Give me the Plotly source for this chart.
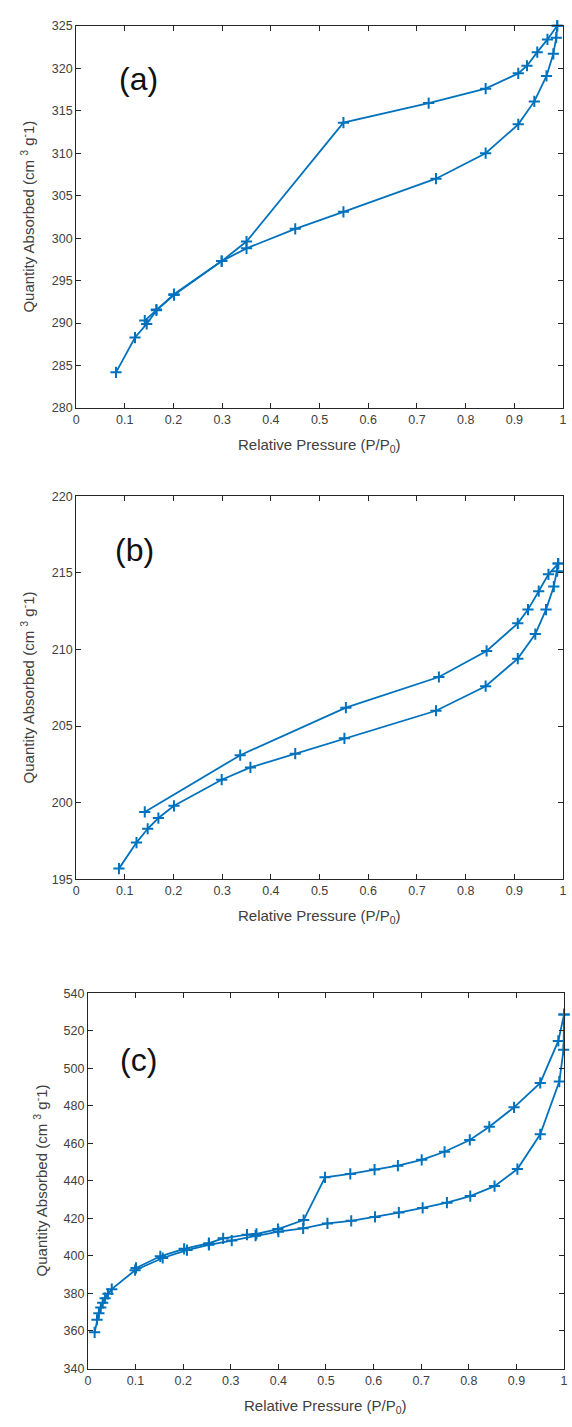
import plotly.graph_objects as go

W, H = 572, 1427

# ---- (a) isotherm: adsorption and desorption branches ----
a_ads_p = [0.082, 0.121, 0.145, 0.165, 0.201, 0.299, 0.350, 0.450, 0.549, 0.739,
           0.841, 0.908, 0.941, 0.966, 0.980, 0.986, 0.988]
a_ads_q = [284.2, 288.3, 289.9, 291.5, 293.3, 297.3, 298.8, 301.1, 303.1, 307.0,
           310.0, 313.4, 316.1, 319.1, 321.7, 323.6, 325.0]
a_des_p = [0.988, 0.968, 0.947, 0.926, 0.908, 0.841, 0.724, 0.549, 0.350, 0.299,
           0.201, 0.165, 0.141]
a_des_q = [325.0, 323.4, 321.9, 320.3, 319.4, 317.6, 315.9, 313.6, 299.6, 297.3,
           293.4, 291.6, 290.3]

# ---- (b) isotherm ----
b_ads_p = [0.088, 0.124, 0.147, 0.169, 0.201, 0.299, 0.358, 0.450, 0.551, 0.739,
           0.841, 0.907, 0.943, 0.965, 0.981, 0.988, 0.990]
b_ads_q = [195.7, 197.4, 198.3, 199.0, 199.8, 201.5, 202.3, 203.2, 204.2, 206.0,
           207.6, 209.4, 211.0, 212.6, 214.1, 215.1, 215.6]
b_des_p = [0.990, 0.970, 0.950, 0.928, 0.907, 0.843, 0.745, 0.554, 0.337, 0.141]
b_des_q = [215.6, 214.9, 213.8, 212.6, 211.7, 209.9, 208.2, 206.2, 203.1, 199.4]

# ---- (c) isotherm ----
c_ads_p = [0.014, 0.019, 0.023, 0.027, 0.031, 0.036, 0.042, 0.050, 0.099, 0.157,
           0.208, 0.254, 0.302, 0.352, 0.400, 0.452, 0.503, 0.553, 0.603, 0.653,
           0.703, 0.754, 0.803, 0.854, 0.902, 0.950, 0.990, 0.999, 1.000]
c_ads_q = [359.3, 366.0, 369.5, 372.5, 375.0, 377.5, 379.8, 382.3, 392.4, 398.9,
           403.1, 405.9, 408.2, 410.8, 412.9, 414.7, 417.3, 418.7, 420.8, 423.1,
           425.6, 428.4, 431.9, 437.2, 446.3, 464.8, 492.9, 509.9, 528.7]
c_des_p = [1.000, 0.988, 0.950, 0.895, 0.843, 0.802, 0.749, 0.701, 0.651, 0.602,
           0.551, 0.498, 0.453, 0.399, 0.354, 0.334, 0.284, 0.254, 0.202, 0.152,
           0.101]
c_des_q = [528.7, 514.6, 492.2, 479.2, 468.8, 461.8, 455.5, 451.2, 448.1, 446.0,
           443.7, 441.9, 419.1, 414.3, 411.7, 411.3, 409.4, 406.8, 403.8, 399.8,
           393.6]

# ---- tick labels ----
x_tick_vals = [0, 0.1, 0.2, 0.3, 0.4, 0.5, 0.6, 0.7, 0.8, 0.9, 1]
x_tick_text = ["0", "0.1", "0.2", "0.3", "0.4", "0.5", "0.6", "0.7", "0.8", "0.9", "1"]
a_y_ticks = [280, 285, 290, 295, 300, 305, 310, 315, 320, 325]
b_y_ticks = [195, 200, 205, 210, 215, 220]
c_y_ticks = [340, 360, 380, 400, 420, 440, 460, 480, 500, 520, 540]

panel_labels = ["(a)", "(b)", "(c)"]
x_title = "Relative Pressure (P/P<sub>0</sub>)"
y_title = "Quantity Absorbed (cm <sup>3</sup> g<sup>-</sup>1)"

LINE = "#0072BD"
AXIS = "#262626"
TEXT = "#404040"
FONT = "Liberation Sans, Arial, sans-serif"


def px_x(px):
    return px / W


def px_y(py):
    return 1 - py / H


# plot boxes in pixels: left, right, top, bottom
boxes = [
    (74, 567, 19, 405),
    (74, 567, 494, 881),
    (86, 568, 996, 1375),
]
y_ranges = [[280, 325], [195, 220], [340, 540]]
y_ticks = [a_y_ticks, b_y_ticks, c_y_ticks]
series = [
    (a_ads_p, a_ads_q, a_des_p, a_des_q),
    (b_ads_p, b_ads_q, b_des_p, b_des_q),
    (c_ads_p, c_ads_q, c_des_p, c_des_q),
]
label_pos = [(137, 73), (133, 548), (137, 1063)]
ytitle_x = [25, 25, 38]

fig = go.Figure()
annotations = []
layout = {}

for i in range(3):
    n = "" if i == 0 else str(i + 1)
    xa, ya = "x" + n, "y" + n
    l, r, t, b = boxes[i]
    ads_p, ads_q, des_p, des_q = series[i]
    for px_, q_ in ((ads_p, ads_q), (des_p, des_q)):
        fig.add_trace(go.Scatter(
            x=px_, y=q_, xaxis=xa, yaxis=ya, mode="lines+markers",
            line=dict(color=LINE, width=1.8),
            marker=dict(symbol="cross-thin", size=8, color=LINE,
                        line=dict(color=LINE, width=2)),
            cliponaxis=False, showlegend=False, hoverinfo="x+y",
        ))

    common = dict(
        showline=True, linecolor=AXIS, linewidth=1, mirror="ticks",
        ticks="inside", ticklen=5, tickwidth=1, tickcolor=AXIS,
        showgrid=False, zeroline=False, fixedrange=True,
        tickfont=dict(family=FONT, size=12.5, color=TEXT),
    )
    layout["xaxis" + n] = dict(
        common, domain=[px_x(l), px_x(r)], anchor=ya, range=[0, 1],
        tickmode="array", tickvals=x_tick_vals, ticktext=x_tick_text,
    )
    layout["yaxis" + n] = dict(
        common, domain=[px_y(b), px_y(t)], anchor=xa, range=y_ranges[i],
        tickmode="array", tickvals=y_ticks[i],
        ticktext=[str(v) for v in y_ticks[i]],
    )

    # panel letter
    lx, ly = label_pos[i]
    annotations.append(dict(
        text=panel_labels[i], xref="paper", yref="paper",
        x=px_x(lx), y=px_y(ly), xanchor="center", yanchor="middle",
        showarrow=False, font=dict(family=FONT, size=32, color="#111111"),
    ))
    # x-axis title
    annotations.append(dict(
        text=x_title, xref="paper", yref="paper",
        x=px_x((l + r) / 2), y=px_y(b + 38), xanchor="center", yanchor="middle",
        showarrow=False, font=dict(family=FONT, size=15, color=TEXT),
    ))
    # y-axis title
    annotations.append(dict(
        text=y_title, xref="paper", yref="paper", textangle=-90,
        x=px_x(ytitle_x[i]), y=px_y((t + b) / 2), xanchor="center", yanchor="middle",
        showarrow=False, font=dict(family=FONT, size=15, color=TEXT),
    ))

fig.update_layout(
    width=W, height=H, autosize=False,
    margin=dict(l=0, r=0, t=0, b=0, pad=0),
    paper_bgcolor="white", plot_bgcolor="white",
    annotations=annotations,
    **layout,
)

fig.write_html("out.html", config={"displayModeBar": False})
